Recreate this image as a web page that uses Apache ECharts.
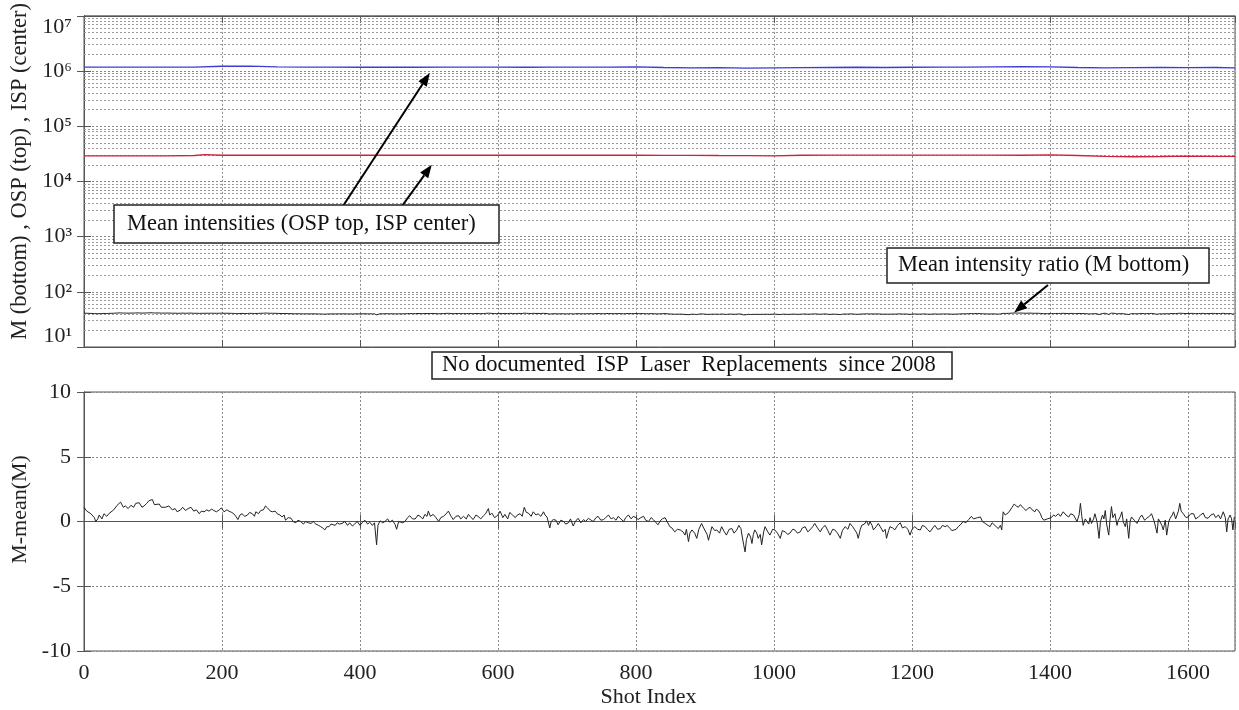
<!DOCTYPE html>
<html><head><meta charset="utf-8">
<script src="https://cdn.jsdelivr.net/npm/echarts@6/dist/echarts.min.js"></script>
<style>html,body{margin:0;padding:0;background:#fff}#c{width:1239px;height:710px}</style>
</head><body><div id="c"></div>
<script>
// ---------- DATA ----------
const shotMax = 1668;
const xTickStep = 200;
const logDecades = [1, 2, 3, 4, 5, 6, 7];

// ISP (blue, center) mean intensity, sampled
const ispShots = [0,40,80,120,160,200,240,280,320,360,400,440,480,520,560,600,640,680,720,760,800,840,880,920,960,1000,1040,1080,1120,1160,1200,1240,1280,1320,1360,1400,1440,1480,1520,1560,1600,1640,1668];
const ispValues = [1.18e6,1.18e6,1.18e6,1.18e6,1.18e6,1.22e6,1.23e6,1.19e6,1.18e6,1.18e6,1.17e6,1.18e6,1.17e6,1.18e6,1.18e6,1.18e6,1.17e6,1.18e6,1.18e6,1.18e6,1.19e6,1.16e6,1.14e6,1.15e6,1.13e6,1.14e6,1.15e6,1.16e6,1.17e6,1.16e6,1.17e6,1.18e6,1.18e6,1.19e6,1.2e6,1.19e6,1.16e6,1.14e6,1.15e6,1.16e6,1.15e6,1.16e6,1.14e6];
// OSP (red, top) mean intensity, sampled
const ospShots = [0,40,80,120,160,175,200,240,280,320,360,400,440,480,520,560,600,640,680,720,760,800,840,880,920,960,1000,1040,1080,1120,1160,1200,1240,1280,1320,1360,1400,1440,1480,1520,1560,1600,1640,1668];
const ospValues = [2.9e4,2.9e4,2.9e4,2.9e4,2.95e4,3.05e4,2.98e4,2.98e4,2.98e4,2.98e4,2.98e4,2.98e4,2.98e4,2.98e4,2.98e4,2.98e4,2.98e4,2.98e4,2.98e4,2.98e4,2.98e4,2.98e4,2.97e4,2.97e4,2.95e4,2.94e4,2.9e4,2.98e4,3.0e4,3.0e4,3.0e4,3.0e4,3.0e4,3.0e4,3.0e4,2.98e4,3.02e4,2.95e4,2.85e4,2.8e4,2.83e4,2.88e4,2.85e4,2.85e4];
// mean of M (black, bottom)
const mMean = 40;
// M - mean(M)
const devShots = [0,4,10,15,17,20,22,26,29,33,36,43,48,53,57,60,64,68,72,75,80,84,87,91,94,99,102,104,109,112,114,118,123,128,132,135,140,143,147,151,155,159,163,167,170,174,178,181,185,188,192,196,199,203,207,210,214,217,220,223,226,229,233,237,240,244,247,249,253,256,260,263,266,268,270,273,277,280,284,287,290,292,296,300,303,307,310,314,318,321,325,329,332,336,340,343,346,349,352,355,358,360,364,367,370,374,378,382,385,389,392,396,400,403,407,411,414,418,
421,424,426,429,433,436,440,443,447,451,453,456,458,462,465,469,472,476,480,484,487,491,494,497,499,502,506,510,514,517,521,525,528,532,535,539,543,546,550,554,557,561,564,568,571,575,579,582,586,588,591,595,598,601,603,607,610,614,617,621,625,628,632,635,638,641,644,648,651,655,658,662,666,668,671,675,677,680,684,687,691,695,698,702,705,709,712,716,720,724,727,731,735,738,742,745,749,753,756,760,764,767,771,774,778,782,785,789,793,796,800,803,807,811,814,818,822,825,829,832,
835,838,842,845,849,852,856,860,864,868,871,873,876,878,881,885,888,891,895,898,900,903,905,908,910,914,917,921,924,928,931,935,939,942,946,949,952,954,956,958,960,963,966,968,970,972,975,977,980,982,985,987,991,994,998,1001,1005,1009,1012,1016,1020,1023,1027,1030,1034,1038,1041,1045,1049,1052,1056,1059,1063,1067,1070,1074,1078,1081,1085,1088,1092,1096,1099,1103,1107,1110,1114,1117,1120,1122,1125,1127,1131,1134,1137,1139,1142,1144,1148,1151,1155,1158,1161,1163,1166,1168,1172,1175,1179,1183,1186,1190,1194,1197,1200,1204,1208,1212,1215,1219,1222,1226,1230,1233,1237,1241,1244,
1248,1251,1255,1258,1260,1264,1267,1271,1274,1278,1282,1284,1286,1289,1291,1295,1299,1302,1306,1310,1313,1316,1318,1322,1325,1328,1330,1332,1335,1337,1340,1342,1345,1348,1351,1354,1357,1359,1362,1365,1368,1371,1374,1378,1380,1383,1386,1388,1391,1393,1396,1398,1402,1405,1408,1412,1415,1419,1423,1427,1430,1434,1437,1439,1442,1444,1446,1448,1451,1453,1456,1458,1460,1463,1465,1468,1471,1473,1476,1478,1480,1482,1485,1487,1489,1491,1494,1497,1499,1502,1504,1506,1509,1511,1514,1516,1518,1522,1526,1530,1533,1537,1540,1544,1547,1551,1555,1557,1559,1562,1564,1567,1569,1572,1574,1577,1579,1582,1584,1586,1588,1590,1593,1597,1600,1604,1608,1611,1615,1618,1622,1625,1629,1633,1637,1640,1644,1647,1651,1654,1656,1658,1661,1663,1665,1667];
const devValues = [1.1,0.8,0.6,0.3,0.0,0.2,0.5,0.2,0.6,0.4,0.6,0.9,1.25,1.5,1.1,1.2,1.0,1.25,1.1,1.4,1.45,1.1,1.2,1.4,1.6,1.7,1.3,1.45,1.35,1.1,1.25,1.1,1.2,0.9,1.0,0.75,0.9,1.1,0.85,1.0,1.1,0.8,0.9,0.6,0.8,0.75,0.9,0.8,0.95,0.85,0.75,0.9,1.05,0.75,0.9,0.8,0.7,0.6,0.4,0.15,0.5,0.6,0.4,0.5,0.7,0.6,0.4,0.75,0.6,0.85,0.9,1.2,1.05,1.0,0.8,0.75,0.8,0.6,0.5,0.35,0.5,0.1,0.3,0.25,0.0,-0.1,0.1,0.0,-0.2,0.0,-0.1,-0.15,0.0,-0.2,-0.3,-0.4,-0.5,-0.65,-0.4,-0.4,-0.2,-0.1,-0.3,-0.1,-0.2,-0.15,0.0,-0.3,-0.1,-0.35,-0.2,0.0,-0.3,-0.1,0.1,-0.2,-0.05,-0.3,
-0.1,-1.8,-0.3,0.05,-0.1,0.0,0.2,-0.05,0.1,-0.25,-0.6,0.0,0.15,-0.1,0.0,0.3,0.45,0.2,0.2,0.5,0.4,0.2,0.55,0.4,0.8,0.4,0.55,0.3,0.0,0.3,0.4,0.6,0.8,0.4,0.15,0.4,0.45,0.2,0.4,0.2,0.55,0.3,0.15,0.5,0.4,0.2,0.45,0.6,1.0,0.5,0.65,0.3,0.4,0.6,0.8,0.3,0.55,0.2,0.7,0.5,0.3,0.5,0.6,0.4,1.1,0.7,0.65,0.4,0.75,0.5,0.6,0.4,0.75,0.5,0.35,-0.5,0.0,0.15,0.1,-0.25,0.1,0.0,-0.2,-0.1,0.2,-0.35,0.0,0.25,-0.1,0.15,0.0,0.25,0.1,0.0,0.3,0.4,0.1,0.15,0.3,0.5,0.2,0.3,0.1,0.4,0.2,0.0,0.3,0.5,0.2,0.4,0.3,0.15,0.3,0.4,0.1,0.0,0.3,0.15,-0.1,-0.25,
0.05,0.2,0.3,0.0,-0.4,-0.5,-0.8,-0.6,-0.65,-0.8,-1.05,-0.6,-1.55,-0.9,-0.65,-0.9,-1.3,-0.6,-0.15,-0.5,-0.65,-1.0,-1.45,-0.8,-0.4,-0.7,-0.65,-0.9,-0.4,-0.8,-1.05,-0.6,-0.55,-0.9,-0.65,-0.3,-0.55,-1.2,-1.8,-2.35,-1.4,-0.9,-1.2,-1.7,-1.0,-0.65,-0.9,-1.3,-1.0,-1.8,-0.8,-0.4,-0.8,-1.05,-0.6,-0.65,-0.9,-1.3,-0.7,-0.8,-1.0,-0.9,-0.6,-0.65,-0.9,-0.8,-0.5,-0.4,-0.8,-0.65,-0.4,-0.15,-0.5,-0.8,-0.5,-0.3,-0.7,-1.05,-0.6,-0.65,-0.9,-1.3,-0.7,-0.4,-0.6,-0.15,-0.4,-0.65,-0.9,-1.3,-0.6,-0.3,-0.2,0.05,-0.3,0.0,-0.3,-0.65,-0.4,-0.15,-0.5,-0.8,-0.6,-1.3,-0.7,-0.4,-0.5,-0.65,-0.3,-0.1,-0.5,-0.4,-0.6,-1.05,-0.6,-0.4,-0.6,-0.65,-0.3,-0.4,-0.6,-0.8,-0.5,-0.3,-0.6,-0.55,-0.3,
-0.4,-0.3,-0.55,-0.7,-0.85,-0.6,-0.4,-0.2,0.0,-0.1,0.15,0.3,0.4,0.2,0.1,0.3,0.35,0.0,-0.15,-0.3,-0.4,-0.1,-0.15,-0.4,-0.55,-0.3,-0.65,0.75,0.5,0.6,0.7,0.85,1.1,1.35,1.2,1.1,1.3,1.25,1.0,0.85,1.0,1.1,0.9,0.75,0.95,0.85,0.6,0.3,0.1,0.05,0.2,0.15,0.3,0.5,0.4,0.6,0.4,0.75,0.5,0.35,0.6,0.5,0.2,0.0,0.5,1.4,0.4,-0.3,0.2,0.35,-0.2,0.3,-0.15,0.2,0.6,0.0,-1.3,0.0,0.5,0.2,0.85,-0.2,-1.05,0.2,1.15,0.3,0.6,-0.3,0.1,0.4,0.75,0.0,-0.4,0.2,-1.3,0.0,0.35,0.1,-0.15,0.3,0.5,0.1,0.25,0.4,0.6,0.0,-0.9,0.2,0.1,-0.3,-0.65,0.1,-1.05,0.0,0.25,0.5,0.75,0.2,0.35,0.8,1.4,0.8,0.6,0.3,0.35,0.6,0.6,0.2,0.35,0.5,0.65,0.3,0.25,0.5,0.6,0.3,0.5,0.2,0.75,0.3,-0.8,0.2,0.5,0.2,-0.65,0.35];

const annText1 = 'Mean intensities (OSP top, ISP center)';
const annText2 = 'Mean intensity ratio (M bottom)';
const annText3 = 'No documented  ISP  Laser  Replacements  since 2008';
const yNameTop = 'M (bottom) , OSP (top) , ISP (center)';
const yNameBottom = 'M-mean(M)';
const xName = 'Shot Index';

// ---------- CHART ----------
const FONT = '"Liberation Serif", "Times New Roman", serif';
const gridCol = '#8a8a8a';
const frameCol = '#555';
const sup = {'0':'⁰','1':'¹','2':'²','3':'³','4':'⁴','5':'⁵','6':'⁶','7':'⁷','8':'⁸','9':'⁹'};

const pairs = (xs, ys) => xs.map((x, i) => [x, ys[i]]);
const mValues = devValues.map(d => mMean + d);

const minorLog = [];
logDecades.slice(0, -1).forEach(e => { for (let k = 2; k <= 9; k++) minorLog.push({yAxis: k * Math.pow(10, e)}); });

const chart = echarts.init(document.getElementById('c'), null, {renderer: 'canvas'});

const commonX = (gi, showLabels) => ({
  type: 'value', gridIndex: gi, min: 0, max: shotMax, interval: xTickStep,
  axisLine: {show: true, lineStyle: {color: frameCol}},
  axisTick: {show: true, inside: true, length: 7, lineStyle: {color: frameCol}},
  axisLabel: {show: showLabels, fontFamily: FONT, fontSize: 22, color: '#222', margin: 11, showMaxLabel: false,
    formatter: v => String(v)},
  splitLine: {show: true, lineStyle: {color: gridCol, type: [2, 2], width: 1}}
});

const option = {
  animation: false,
  backgroundColor: '#fff',
  grid: [
    {left: 84, top: 14, width: 1151, height: 333, show: true, borderColor: frameCol, borderWidth: 1},
    {left: 84, top: 392, width: 1151, height: 259, show: true, borderColor: frameCol, borderWidth: 1}
  ],
  xAxis: [
    commonX(0, false),
    Object.assign(commonX(1, true), {name: xName, nameLocation: 'middle', nameGap: 35,
      nameTextStyle: {fontFamily: FONT, fontSize: 22, color: '#222', padding: [0, 22, 0, 0]}}),
    Object.assign(commonX(0, false), {position: 'top', splitLine: {show: false}}),
    Object.assign(commonX(1, false), {position: 'top', splitLine: {show: false}})
  ],
  yAxis: [
    {type: 'log', logBase: 10, gridIndex: 0, min: 10, max: 1e7,
     name: yNameTop, nameLocation: 'middle', nameGap: 50,
     nameTextStyle: {fontFamily: FONT, fontSize: 22.5, color: '#222', padding: [0, 0, 0, 20]},
     axisLine: {show: true, lineStyle: {color: frameCol}},
     axisTick: {show: true, inside: true, length: 7, lineStyle: {color: frameCol}},
     axisLabel: {fontFamily: FONT, fontSize: 22, color: '#222', margin: 12,
       verticalAlignMinLabel: 'bottom', verticalAlignMaxLabel: 'top',
       formatter: v => { const e = String(Math.round(Math.log10(v))); return '10' + e.split('').map(c => sup[c]).join(''); }},
     splitLine: {show: true, lineStyle: {color: gridCol, type: [2, 2], width: 1}}},
    {type: 'value', gridIndex: 1, min: -10, max: 10, interval: 5,
     name: yNameBottom, nameLocation: 'middle', nameGap: 49,
     nameTextStyle: {fontFamily: FONT, fontSize: 22, color: '#222', padding: [0, 0, 0, 24]},
     axisLine: {show: true, lineStyle: {color: frameCol}},
     axisTick: {show: true, inside: true, length: 7, lineStyle: {color: frameCol}},
     axisLabel: {fontFamily: FONT, fontSize: 22, color: '#222', margin: 13},
     splitLine: {show: true, lineStyle: {color: gridCol, type: [2, 2], width: 1}}},
    {type: 'log', logBase: 10, gridIndex: 0, min: 10, max: 1e7, position: 'right',
     axisLine: {show: true, lineStyle: {color: frameCol}},
     axisTick: {show: true, inside: true, length: 7, lineStyle: {color: frameCol}},
     axisLabel: {show: false}, splitLine: {show: false}},
    {type: 'value', gridIndex: 1, min: -10, max: 10, interval: 5, position: 'right',
     axisLine: {show: true, lineStyle: {color: frameCol}},
     axisTick: {show: true, inside: true, length: 7, lineStyle: {color: frameCol}},
     axisLabel: {show: false}, splitLine: {show: false}}
  ],
  series: [
    {type: 'line', xAxisIndex: 0, yAxisIndex: 0, data: [], silent: true,
     markLine: {silent: true, symbol: 'none', label: {show: false},
       lineStyle: {color: '#9a9a9a', type: [2, 2], width: 1}, data: minorLog}},
    {type: 'line', xAxisIndex: 0, yAxisIndex: 0, data: pairs(ispShots, ispValues), showSymbol: false,
     lineStyle: {color: '#3b3bd6', width: 1.3}, z: 5},
    {type: 'line', xAxisIndex: 0, yAxisIndex: 0, data: pairs(ospShots, ospValues), showSymbol: false,
     lineStyle: {color: '#d0203a', width: 1.3}, z: 5},
    {type: 'line', xAxisIndex: 0, yAxisIndex: 0, data: pairs(devShots, mValues), showSymbol: false,
     lineStyle: {color: '#222', width: 1}, z: 5},
    {type: 'line', xAxisIndex: 1, yAxisIndex: 1, data: pairs(devShots, devValues), showSymbol: false,
     lineStyle: {color: '#222', width: 1}, z: 5}
  ]
};
chart.setOption(option);

// ---------- ANNOTATIONS ----------
function arrow(from, to) {
  const ang = Math.atan2(to[1] - from[1], to[0] - from[0]);
  const L = 13, W = 5;
  const bx = to[0] - L * Math.cos(ang), by = to[1] - L * Math.sin(ang);
  const px = -Math.sin(ang) * W, py = Math.cos(ang) * W;
  return [
    {type: 'line', shape: {x1: from[0], y1: from[1], x2: bx, y2: by}, style: {stroke: '#000', lineWidth: 2}, z: 20},
    {type: 'polygon', shape: {points: [[to[0], to[1]], [bx + px, by + py], [bx - px, by - py]]}, style: {fill: '#000'}, z: 20}
  ];
}
function box(x, y, w, h, text, fs, tx) {
  return [
    {type: 'rect', shape: {x: x, y: y, width: w, height: h}, style: {fill: '#fff', stroke: '#222', lineWidth: 1.5}, z: 30},
    {type: 'text', x: x + tx, y: y + h / 2, style: {text: text, font: fs + 'px ' + FONT, fill: '#111', align: 'left', verticalAlign: 'middle'}, z: 31}
  ];
}
const tipIsp = chart.convertToPixel({xAxisIndex: 0, yAxisIndex: 0}, [501, 0.92e6]);
const tipOsp = chart.convertToPixel({xAxisIndex: 0, yAxisIndex: 0}, [504, 2.0e4]);
const tipM = chart.convertToPixel({xAxisIndex: 0, yAxisIndex: 0}, [1348, 42]);

const g = [].concat(
  arrow([343, 206], tipIsp),
  arrow([402, 206], tipOsp),
  arrow([1048, 285], tipM),
  box(114, 205, 385, 38, annText1, 22.5, 13),
  box(887, 248, 322, 35, annText2, 22.5, 11),
  box(432, 352, 520, 27, annText3, 22.5, 10)
);
chart.setOption({graphic: g});
</script>
</body></html>
